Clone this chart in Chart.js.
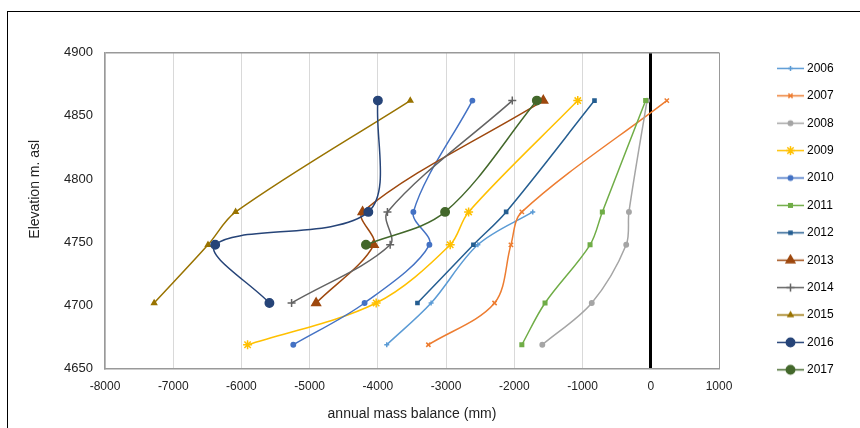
<!DOCTYPE html>
<html>
<head>
<meta charset="utf-8">
<script src="https://cdn.jsdelivr.net/npm/chart.js@4.4.1/dist/chart.umd.min.js"></script>
<style>
  html, body { margin: 0; padding: 0; background: #fff; }
  #wrap { position: relative; width: 860px; height: 428px; overflow: hidden; }
  #chart { display: block; }
  #frame { position: absolute; left: 7px; top: 11px; width: 900px; height: 500px;
           border-left: 1px solid #000; border-top: 1px solid #000; pointer-events: none; }
</style>
</head>
<body>
<div id="wrap">
  <canvas id="chart" width="860" height="428"></canvas>
  <div id="frame"></div>
</div>
<script>
// elevations of the stakes (m asl)
const elevations = [4669, 4702, 4748, 4774, 4862];
const years = ["2006", "2007", "2008", "2009", "2010", "2011",
               "2012", "2013", "2014", "2015", "2016", "2017"];

// annual mass balance (mm) at each elevation, null = not measured
const mb2006 = [-3870, -3220, -2535, -1730, null];
const mb2007 = [-3260, -2290, -2050, -1890, 235];
const mb2008 = [-1590, -865, -360, -320, -55];
const mb2009 = [-5910, -4025, -2940, -2670, -1070];
const mb2010 = [-5240, -4195, -3245, -3480, -2615];
const mb2011 = [-1890, -1550, -890, -710, -75];
const mb2012 = [null, -3420, -2600, -2120, -825];
const mb2013 = [null, -4905, -4060, -4225, -1575];
const mb2014 = [null, -5265, -3820, -3860, -2030];
const mb2015 = [null, -7280, -6490, -6085, -3525];
const mb2016 = [null, -5590, -6385, -4140, -4000];
const mb2017 = [null, null, -4175, -3015, -1670];

const balances = [mb2006, mb2007, mb2008, mb2009, mb2010, mb2011,
                  mb2012, mb2013, mb2014, mb2015, mb2016, mb2017];

const colors = ["#5B9BD5", "#ED7D31", "#A5A5A5", "#FFC000", "#4472C4", "#70AD47",
                "#255E91", "#9E480E", "#636363", "#997300", "#264478", "#43682B"];
const markers = ["cross", "crossRot", "circle", "star", "circle", "rect",
                 "rect", "triangle", "cross", "triangle", "circle", "circle"];
const markerSizes = [2.5, 3, 2.2, 4.5, 2.2, 2.5, 2.2, 5, 4, 2.8, 4.2, 4.2];

const fontFamily = "'Liberation Sans', Arial, sans-serif";
// Excel put the y title a bit above the middle of the axis; leading spaces nudge it up
const yTitle = "           Elevation m. asl";

function toPoints(values) {
  const pts = [];
  values.forEach((v, i) => {
    if (v !== null) pts.push({ x: v, y: elevations[i] });
  });
  return pts;
}

// little line + marker picture for the legend
function legendIcon(i) {
  const c = document.createElement("canvas");
  c.width = 27;
  c.height = 13;
  const ctx = c.getContext("2d");
  ctx.strokeStyle = colors[i];
  ctx.fillStyle = colors[i];
  ctx.lineWidth = 1.5;
  ctx.beginPath();
  ctx.moveTo(0, 6.5);
  ctx.lineTo(27, 6.5);
  ctx.stroke();
  Chart.helpers.drawPoint(ctx, {
    pointStyle: markers[i], radius: markerSizes[i], rotation: 0, borderWidth: 1.5
  }, 13.5, 6.5);
  return c;
}

const datasets = years.map((year, i) => ({
  label: year,
  data: toPoints(balances[i]),
  borderColor: colors[i],
  backgroundColor: colors[i],
  borderWidth: 1.5,
  tension: 0.33,
  fill: false,
  pointStyle: markers[i],
  pointRadius: markerSizes[i],
  pointHoverRadius: markerSizes[i],
  pointBorderWidth: 1.5,
  order: years.length - i
}));

// put the legend where Excel had it, away from the plot
const legendSpot = {
  id: "legendSpot",
  afterLayout(chart) {
    const lg = chart.legend;
    lg.left = 764.6;
    lg.right = lg.left + lg.width;
    lg.top = 47;
    lg.bottom = 428;
    lg.height = lg.bottom - lg.top;
  }
};

new Chart(document.getElementById("chart"), {
  type: "line",
  data: { datasets: datasets },
  plugins: [legendSpot],
  options: {
    responsive: false,
    animation: false,
    devicePixelRatio: 1,
    layout: { padding: { top: 52.5, bottom: 5, left: 0, right: 0 } },
    plugins: {
      tooltip: { enabled: false },
      legend: {
        position: "right",
        align: "start",
        labels: {
          usePointStyle: true,
          pointStyleWidth: 21,
          padding: 15.4,
          color: "#222",
          font: { family: fontFamily, size: 12 },
          generateLabels: chart => chart.data.datasets.map((ds, i) => ({
            text: ds.label,
            pointStyle: legendIcon(i),
            fillStyle: colors[i],
            strokeStyle: colors[i],
            lineWidth: 0,
            hidden: false,
            datasetIndex: i
          }))
        }
      }
    },
    scales: {
      x: {
        type: "linear",
        min: -8000,
        max: 1000,
        ticks: {
          stepSize: 1000,
          padding: 11,
          color: "#222",
          font: { family: fontFamily, size: 12 },
          callback: v => String(v)
        },
        grid: {
          drawTicks: false,
          color: c => c.tick.value === 0 ? "#000" : (c.tick.value === 1000 ? "#999" : "#d9d9d9"),
          lineWidth: c => c.tick.value === 0 ? 3 : 1
        },
        border: { color: "#999", width: 1.5 },
        title: {
          display: true,
          text: "annual mass balance (mm)",
          color: "#222",
          font: { family: fontFamily, size: 14 },
          padding: { top: 1, bottom: 0 }
        },
        afterFit(scale) { scale.paddingRight = 141; }
      },
      y: {
        min: 4650,
        max: 4900,
        ticks: {
          stepSize: 50,
          padding: 12,
          color: "#222",
          font: { family: fontFamily, size: 13 },
          callback: v => String(v)
        },
        grid: {
          drawTicks: false,
          color: c => c.tick.value === 4900 ? "#999" : "rgba(0,0,0,0)",
          lineWidth: 1.5
        },
        border: { color: "#999", width: 1.5 },
        title: {
          display: true,
          text: yTitle,
          color: "#222",
          font: { family: fontFamily, size: 14 },
          padding: { top: 26.5, bottom: 0 }
        },
        afterFit(scale) { scale.width = 105; }
      }
    }
  }
});
</script>
</body>
</html>
